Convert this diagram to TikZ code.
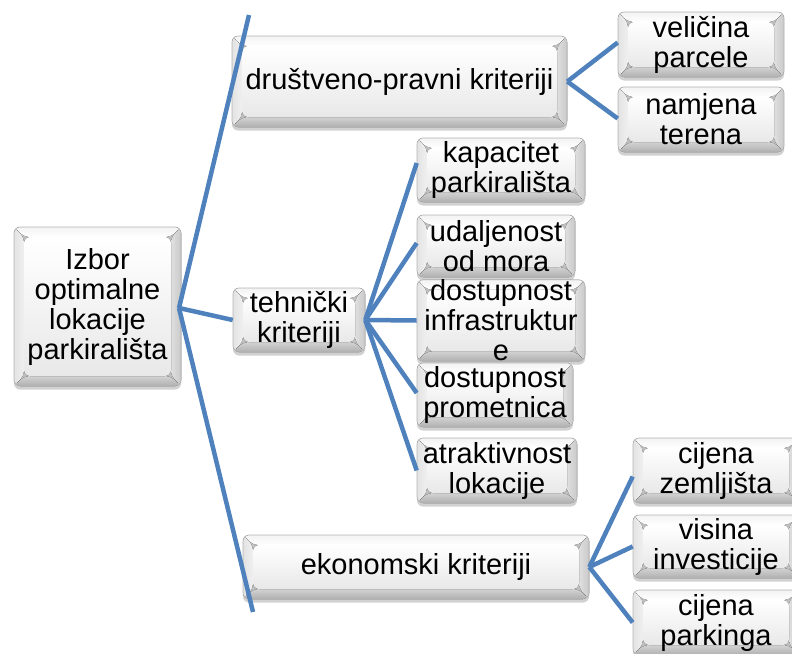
\documentclass[tikz,border=0pt]{standalone}
\usepackage{fontspec}
\setmainfont{Liberation Sans}
\usetikzlibrary{shadows}
\definecolor{connblue}{RGB}{79,129,189}
\newcommand\bevelpaint{%
  \fill[gray!50] (path picture bounding box.south west) rectangle (path picture bounding box.north east);
  \fill[top color=gray!10,bottom color=white] (path picture bounding box.north west) -- (path picture bounding box.north east) -- ([shift={(-10pt,-10pt)}]path picture bounding box.north east) -- ([shift={(10pt,-10pt)}]path picture bounding box.north west) -- cycle;
  \fill[left color=gray!22,right color=gray!12] (path picture bounding box.north west) -- ([shift={(10pt,-10pt)}]path picture bounding box.north west) -- ([shift={(10pt,10pt)}]path picture bounding box.south west) -- (path picture bounding box.south west) -- cycle;
  \fill[left color=gray!25,right color=gray!42] (path picture bounding box.north east) -- (path picture bounding box.south east) -- ([shift={(-10pt,10pt)}]path picture bounding box.south east) -- ([shift={(-10pt,-10pt)}]path picture bounding box.north east) -- cycle;
  \fill[top color=gray!35,bottom color=gray!62] (path picture bounding box.south west) -- (path picture bounding box.south east) -- ([shift={(-10pt,10pt)}]path picture bounding box.south east) -- ([shift={(10pt,10pt)}]path picture bounding box.south west) -- cycle;
  \fill[top color=white,bottom color=gray!18] ([shift={(10pt,-10pt)}]path picture bounding box.north west) rectangle ([shift={(-10pt,10pt)}]path picture bounding box.south east);
}
\tikzset{
  bevel/.style={rectangle, rounded corners=6pt, draw=gray!60, line width=0.6pt,
    drop shadow={shadow xshift=0pt, shadow yshift=-3.5pt, fill=black!45, opacity=0.4},
    path picture={\bevelpaint},
    font=\fontsize{29}{30}\selectfont, align=center, inner sep=0pt},
  bsize/.style n args={2}{minimum width=#1pt, minimum height=#2pt},
  conn/.style={draw=connblue, line width=4.5pt},
}
\begin{document}
\begin{tikzpicture}[x=1pt,y=-1pt]
\useasboundingbox (0,0) rectangle (792,653);
\clip (0,0) rectangle (792,653);
% boxes
\node[bevel,bsize={167}{159}] (root) at (97.5,306.5) {Izbor\\optimalne\\lokacije\\parkirališta};
\node[bevel,bsize={335}{91}] (drus) at (399.5,81.5) {društveno-pravni kriteriji};
\node[bevel,bsize={166}{65}] (veli) at (701,44.5) {veličina\\parcele};
\node[bevel,bsize={166}{65}] (namj) at (701,119.5) {namjena\\terena};
\node[bevel,bsize={132}{64}] (tehn) at (299,320) {tehnički\\kriteriji};
\node[bevel,bsize={168}{64}] (kap) at (501,170) {kapacitet\\parkirališta};
\node[bevel,bsize={158}{62}] (udal) at (496,246) {udaljenost\\od mora};
\node[bevel,bsize={168}{63}] (infra) at (501,320.5) {dostupnost\\infrastruktur\\e};
\node[bevel,bsize={156}{64}] (prom) at (495,395) {dostupnost\\prometnica};
\node[bevel,bsize={160}{65}] (atrak) at (497,470.5) {atraktivnost\\lokacije};
\node[bevel,bsize={346}{64}] (ekon) at (416,567) {ekonomski kriteriji};
\node[bevel,bsize={166}{65}] (cz) at (716,470.5) {cijena\\zemljišta};
\node[bevel,bsize={166}{63}] (vis) at (716,546.5) {visina\\investicije};
\node[bevel,bsize={166}{65}] (park) at (716,622.5) {cijena\\parkinga};
% connectors
\coordinate (rp) at (179,308);
\coordinate (topend) at (249,15);
\coordinate (botend) at (253,612);
\draw[conn] (rp) -- (topend);
\draw[conn] (rp) -- (tehn.west);
\draw[conn] (rp) -- (botend);
\draw[conn] (drus.east) -- ([yshift=2pt]veli.west);
\draw[conn] (drus.east) -- ([yshift=1pt]namj.west);
\draw[conn] (tehn.east) -- ([yshift=7pt]kap.west);
\draw[conn] (tehn.east) -- ([yshift=3pt]udal.west);
\draw[conn] (tehn.east) -- (infra.west);
\draw[conn] (tehn.east) -- ([yshift=2pt]prom.west);
\draw[conn] (tehn.east) -- (atrak.west);
\draw[conn] (ekon.east) -- ([yshift=-6pt]cz.west);
\draw[conn] (ekon.east) -- (vis.west);
\draw[conn] (ekon.east) -- (park.west);
\end{tikzpicture}
\end{document}
